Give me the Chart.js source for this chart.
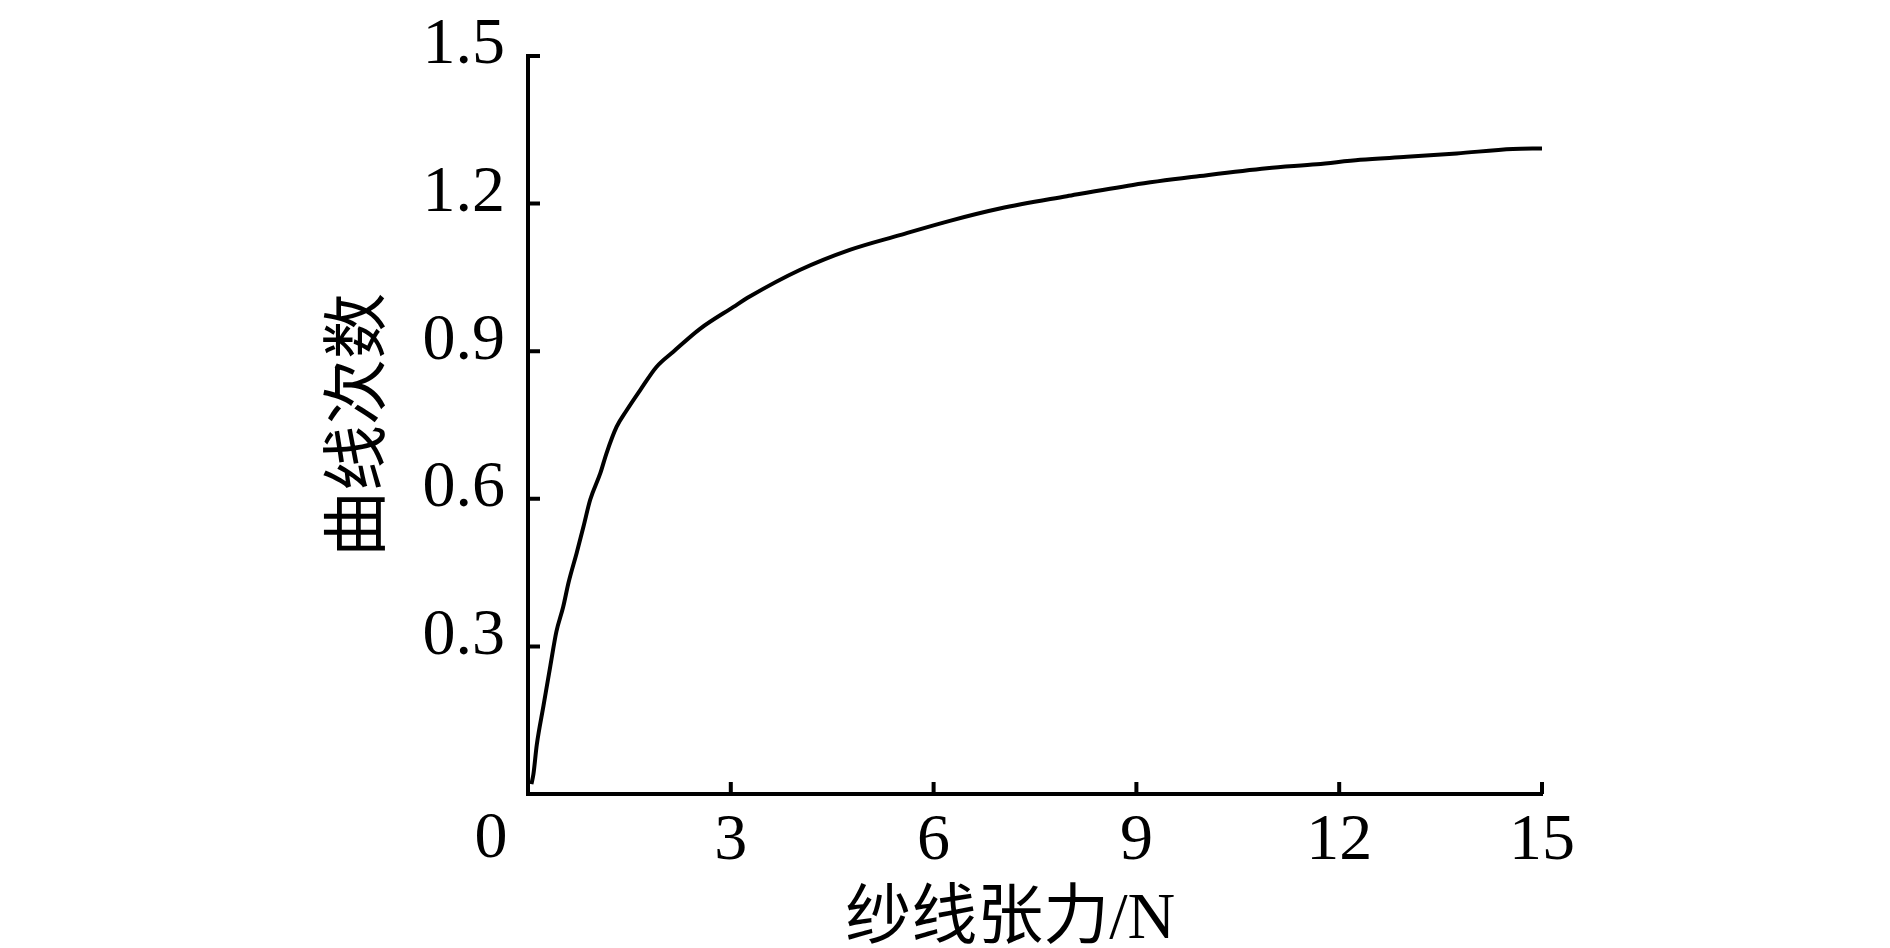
<!DOCTYPE html>
<html>
<head>
<meta charset="utf-8">
<script src="https://cdn.jsdelivr.net/npm/chart.js@4.4.1/dist/chart.umd.min.js"></script>
<style>
  html, body { margin: 0; padding: 0; background: #ffffff; }
  #wrap { width: 1890px; height: 948px; }
</style>
</head>
<body>
<div id="wrap"><canvas id="chart" width="1890" height="948"></canvas></div>
<script>
// 纱线张力 (N) vs 曲线次数
const tension = [0.05, 0.08, 0.13, 0.23, 0.33, 0.42, 0.52, 0.60, 0.72, 0.82, 0.92, 1.07, 1.16, 1.31, 1.46, 1.66, 1.90, 2.15, 2.54, 3.04, 3.28, 4.02, 4.76, 5.50, 6.24, 6.98, 7.97, 8.95, 9.94, 10.93, 11.67, 12.31, 13.00, 13.74, 14.57, 15.00];
const curveOrder = [0.02, 0.04, 0.10, 0.18, 0.26, 0.33, 0.38, 0.43, 0.49, 0.543, 0.598, 0.652, 0.692, 0.746, 0.780, 0.821, 0.868, 0.899, 0.945, 0.990, 1.011, 1.065, 1.106, 1.136, 1.165, 1.190, 1.215, 1.238, 1.256, 1.272, 1.280, 1.289, 1.295, 1.302, 1.311, 1.312];

const xTicks = [0, 3, 6, 9, 12, 15];
const yTicks = [0, 0.3, 0.6, 0.9, 1.2, 1.5];

const xTitle = "纱线张力/N";
const yTitle = "曲线次数";

const tickFont = { family: '"Liberation Serif", "Times New Roman", serif', size: 66 };
const titleFont = { family: '"Liberation Serif", "Noto Sans CJK SC", serif', size: 66 };

const points = tension.map((x, i) => ({ x, y: curveOrder[i] }));

// tick marks point into the plot, and the shared "0" sits left of the origin
const axisDecor = {
  id: "axisDecor",
  afterDraw(chart) {
    const { ctx, chartArea, scales } = chart;
    const len = 12;
    ctx.save();
    ctx.strokeStyle = "#000";
    ctx.lineWidth = 4;
    ctx.beginPath();
    xTicks.forEach((v) => {
      if (v === 0) return;
      const px = scales.x.getPixelForValue(v);
      ctx.moveTo(px, chartArea.bottom);
      ctx.lineTo(px, chartArea.bottom - len);
    });
    yTicks.forEach((v) => {
      if (v === 0) return;
      const py = scales.y.getPixelForValue(v);
      ctx.moveTo(chartArea.left, py);
      ctx.lineTo(chartArea.left + len, py);
    });
    ctx.stroke();

    ctx.fillStyle = "#000";
    ctx.font = `${tickFont.size}px ${tickFont.family}`;
    ctx.textAlign = "center";
    ctx.textBaseline = "middle";
    ctx.fillText("0", scales.x.getPixelForValue(0) - 37, chartArea.bottom + 46);
    ctx.restore();
  },
};

new Chart(document.getElementById("chart"), {
  type: "scatter",
  data: {
    datasets: [
      {
        data: points,
        showLine: true,
        borderColor: "#000000",
        borderWidth: 4,
        pointRadius: 0,
        cubicInterpolationMode: "monotone",
      },
    ],
  },
  options: {
    responsive: false,
    animation: false,
    layout: { padding: { left: 0, right: 348, top: 56, bottom: 0 } },
    plugins: { legend: { display: false }, tooltip: { enabled: false } },
    scales: {
      x: {
        type: "linear",
        min: 0,
        max: 15,
        afterFit: (s) => { s.height = 154; s.paddingLeft = 0; s.paddingRight = 0; },
        afterBuildTicks: (s) => { s.ticks = xTicks.map((v) => ({ value: v })); },
        ticks: {
          color: "#000",
          font: tickFont,
          padding: 8,
          maxRotation: 0,
          callback: (v) => (v === 0 ? "" : String(v)),
        },
        grid: { drawOnChartArea: false, drawTicks: false, color: "rgba(0,0,0,0)" },
        border: { display: true, color: "#000", width: 4 },
        title: { display: true, text: xTitle + "   ", color: "#000", font: titleFont, padding: { top: 0, bottom: -12 } },
      },
      y: {
        type: "linear",
        min: 0,
        max: 1.5,
        afterFit: (s) => { s.width = 528; s.paddingTop = 0; s.paddingBottom = 0; },
        afterBuildTicks: (s) => { s.ticks = yTicks.map((v) => ({ value: v })); },
        ticks: {
          color: "#000",
          font: tickFont,
          padding: 23,
          labelOffset: -10,
          callback: (v) => (v === 0 ? "" : v.toFixed(1)),
        },
        grid: { drawOnChartArea: false, drawTicks: false, color: "rgba(0,0,0,0)" },
        border: { display: true, color: "#000", width: 4 },
        title: { display: true, text: yTitle, color: "#000", font: titleFont, padding: { top: 322, bottom: 0 } },
      },
    },
  },
  plugins: [axisDecor],
});
</script>
</body>
</html>
